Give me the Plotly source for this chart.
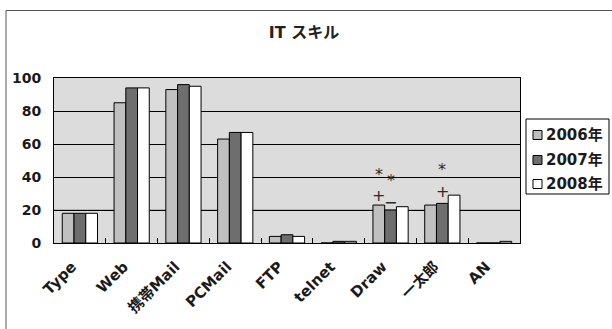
import plotly.graph_objects as go

# ---- data ----
categories = ["Type", "Web", "携帯Mail", "PCMail", "FTP", "telnet", "Draw", "一太郎", "AN"]
series_names = ["2006年", "2007年", "2008年"]
v2006 = [18, 85, 93, 63, 4, 0, 23, 23, 0]
v2007 = [18, 94, 96, 67, 5, 1, 20, 24, 0]
v2008 = [18, 94, 95, 67, 4, 1, 22, 29, 1]
y_ticks = [0, 20, 40, 60, 80, 100]

# significance marks: (category, series index, symbol, height)
mark_cats = ["Draw", "Draw", "Draw", "Draw", "一太郎", "一太郎"]
mark_series = [0, 0, 1, 1, 1, 1]
mark_syms = ["*", "+", "*", "−", "*", "+"]
mark_vals = [41.5, 28.5, 38, 24.5, 44.5, 31.5]

# ---- styling ----
colors = ["#c0c0c0", "#6e6e6e", "#ffffff"]
FONT = "DejaVu Sans, Noto Sans CJK JP, sans-serif"
W, H = 612, 329
PL, PR, PT, PB = 54, 520, 78, 243   # plot area in pixels
BARGAP = 0.32


def px(x):
    return (x - PL) / (PR - PL)


def py(y):
    return (PB - y) / (PB - PT)


fig = go.Figure()
for name, vals, col in zip(series_names, [v2006, v2007, v2008], colors):
    fig.add_trace(go.Bar(
        x=categories, y=vals, name=name,
        marker=dict(color=col, line=dict(color="#000000", width=1)),
        showlegend=False,
    ))

fig.update_layout(
    width=W, height=H,
    margin=dict(l=PL, r=W - PR, t=PT, b=H - PB, pad=0),
    paper_bgcolor="#ffffff",
    plot_bgcolor="#dcdcdc",
    barmode="group", bargap=BARGAP, bargroupgap=0,
    font=dict(family=FONT, size=14, color="#1a1a1a"),
    title=dict(text="<b>IT スキル</b>", x=304 / W, y=1 - 32 / H,
               xanchor="center", yanchor="middle",
               font=dict(family=FONT, size=16, color="#222222")),
)

fig.update_xaxes(
    type="category",
    showline=True, linecolor="#000000", linewidth=1, mirror=True,
    ticks="inside", tickson="boundaries", ticklen=5, tickcolor="#000000",
    tickangle=-45, ticklabelshift=-8, ticklabelstandoff=8,
    tickfont=dict(family=FONT, size=15, color="#1a1a1a", weight="bold"),
    showgrid=False,
)
fig.update_yaxes(
    range=[0, 100], tickvals=y_ticks,
    showline=True, linecolor="#000000", linewidth=1, mirror=True,
    showgrid=True, gridcolor="#000000", gridwidth=1,
    ticks="", ticklabelstandoff=9,
    tickfont=dict(family=FONT, size=14, color="#1a1a1a", weight="bold"),
    zeroline=False,
)

shapes = []
# lighter grid line at 20
shapes.append(dict(type="line", xref="paper", yref="y", x0=0, x1=1, y0=20, y1=20,
                   line=dict(color="#8a8a8a", width=1), layer="between"))
# outer chart frame
shapes.append(dict(type="rect", xref="paper", yref="paper",
                   x0=px(6), x1=px(720), y0=py(420), y1=py(10.5),
                   line=dict(color="#555555", width=1), layer="below"))
# legend box
shapes.append(dict(type="rect", xref="paper", yref="paper",
                   x0=px(526), x1=px(609), y0=py(194), y1=py(119),
                   line=dict(color="#000000", width=1), fillcolor="#ffffff", layer="above"))

annotations = []
rows = [135, 160, 184]
for name, col, ry in zip(series_names, colors, rows):
    shapes.append(dict(type="rect", xref="paper", yref="paper",
                       x0=px(533), x1=px(542), y0=py(ry + 4.5), y1=py(ry - 4.5),
                       line=dict(color="#000000", width=1), fillcolor=col, layer="above"))
    annotations.append(dict(text=name, xref="paper", yref="paper",
                            x=px(544), y=py(ry), xanchor="left", yanchor="middle",
                            showarrow=False,
                            font=dict(family=FONT, size=15, color="#1a1a1a", weight="bold")))

cat_w = (PR - PL) / len(categories)
bar_w = cat_w * (1 - BARGAP) / 3
for c, s, sym, v in zip(mark_cats, mark_series, mark_syms, mark_vals):
    annotations.append(dict(text=sym, x=c, y=v, xref="x", yref="y",
                            xshift=(s - 1) * bar_w, showarrow=False,
                            xanchor="center", yanchor="middle",
                            font=dict(family=FONT, size=16, color="#2a2a2a")))

fig.update_layout(shapes=shapes, annotations=annotations)

fig.write_html("out.html")
